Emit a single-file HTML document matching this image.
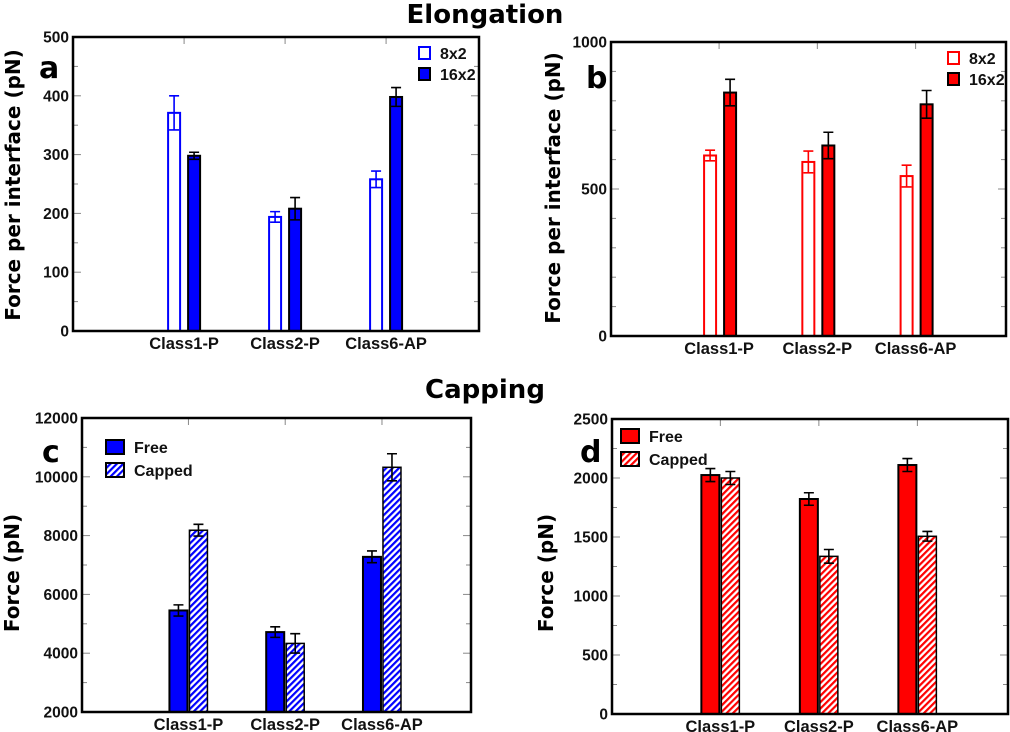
<!DOCTYPE html>
<html><head><meta charset="utf-8"><style>
html,body{margin:0;padding:0;background:#fff;}
svg{display:block;}
.tl{font-family:"Liberation Sans",sans-serif;font-weight:bold;font-size:15.5px;fill:#111;}
.cl{font-family:"Liberation Sans",sans-serif;font-weight:bold;font-size:16.5px;fill:#111;}
.dj{font-family:"DejaVu Sans",sans-serif;font-weight:bold;fill:#000;}
.lg{font-family:"Liberation Sans",sans-serif;font-weight:bold;font-size:16px;fill:#111;}
</style></head><body>
<svg id="fig" width="1010" height="732" viewBox="0 0 1010 732" xmlns="http://www.w3.org/2000/svg">
<defs>
<pattern id="hatchBlue" patternUnits="userSpaceOnUse" width="4.5" height="4.5" patternTransform="rotate(45)">
<rect width="4.5" height="4.5" fill="#fff"/><rect width="2.2" height="4.5" fill="#0000ff"/></pattern>
<pattern id="hatchRed" patternUnits="userSpaceOnUse" width="4.5" height="4.5" patternTransform="rotate(45)">
<rect width="4.5" height="4.5" fill="#fff"/><rect width="2.2" height="4.5" fill="#ff0000"/></pattern>
</defs>
<text class="dj" x="485" y="23" font-size="26" text-anchor="middle">Elongation</text>
<text class="dj" x="485" y="398" font-size="26" text-anchor="middle">Capping</text>
</svg>
<script>
const categories = ["Class1-P","Class2-P","Class6-AP"];
const aSeries1 = [371, 194, 258];
const aErr1 = [29, 9, 14];
const aSeries2 = [298, 208, 398];
const aErr2 = [6, 19, 16];
const aTicks = [0,100,200,300,400,500];
const bSeries1 = [614, 592, 544];
const bErr1 = [18, 37, 37];
const bSeries2 = [828, 648, 788];
const bErr2 = [45, 45, 47];
const bTicks = [0,500,1000];
const cSeries1 = [5454, 4718, 7277];
const cErr1 = [190, 180, 200];
const cSeries2 = [8183, 4333, 10324];
const cErr2 = [200, 330, 460];
const cTicks = [2000,4000,6000,8000,10000,12000];
const dSeries1 = [2025, 1822, 2110];
const dErr1 = [55, 53, 55];
const dSeries2 = [2000, 1336, 1506];
const dErr2 = [55, 58, 41];
const dTicks = [0,500,1000,1500,2000,2500];

const NS = "http://www.w3.org/2000/svg";
const svg = document.getElementById('fig');
function mk(tag, attrs, parent){
  const e = document.createElementNS(NS, tag);
  for (const k in attrs) e.setAttribute(k, attrs[k]);
  (parent||svg).appendChild(e);
  return e;
}

function panel(p){
  const g = mk('g', {});
  
  
  const y = v => p.bottom - (v - p.ymin) / (p.ymax - p.ymin) * (p.bottom - p.top);
  const x = i => p.left + (i + 1.1) * (p.right - p.left) / 4.02;
  for (let v = p.ymin; v <= p.ymax + 1e-9; v += p.minor) {
    const yy = y(v);
    const major = Math.abs(((v - p.ymin) / p.major) - Math.round((v - p.ymin) / p.major)) < 1e-6;
    const len = major ? 8 : 5;
    const t1 = mk('line', {x1:p.left, x2:p.left+len, y1:yy, y2:yy, stroke:'#888', 'stroke-width':1}, g);
    
    
    const t2 = mk('line', {x1:p.right, x2:p.right-len, y1:yy, y2:yy, stroke:'#888', 'stroke-width':1}, g);
    
    
  }
  p.ticks.forEach(v => {
    const t = mk('text', {x:p.left-4, y:y(v)+5.5, 'text-anchor':'end', class:'tl'}, g);
    t.textContent = v;
    
    
  });
  categories.forEach((c, i) => {
    const tk = mk('line', {x1:x(i), x2:x(i), y1:p.top, y2:p.top+7, stroke:'#888', 'stroke-width':1}, g);
    
    
    const t = mk('text', {x:x(i), y:p.bottom+18, 'text-anchor':'middle', class:'cl'}, g);
    t.textContent = c;
    
    
  });
  const series = [[p.s1, p.e1, p.style1], [p.s2, p.e2, p.style2]];
  series.forEach((s, si) => {
    s[0].forEach((v, i) => {
      const cx = x(i) + p.offs[si];
      const st = s[2];
      const top = y(v), bot = y(p.ymin);
      const r = mk('rect', {x:cx - p.bw/2, y:top, width:p.bw, height:bot-top, fill:st.fill, stroke:st.stroke, 'stroke-width':st.sw}, g);
      
      
      const e = s[1][i];
      const ec = st.err;
      const eb = mk('path', {d:`M${cx},${y(v+e)}V${y(v-e)}M${cx-5},${y(v+e)}H${cx+5}M${cx-5},${y(v-e)}H${cx+5}`, stroke:ec, 'stroke-width':1.6, fill:'none'}, g);
      
      
    });
  });
  const box = mk('rect', {x:p.left, y:p.top, width:p.right-p.left, height:p.bottom-p.top, fill:'none', stroke:'#000', 'stroke-width':2.5}, g);
  
  
  [p.style1, p.style2].forEach((st, k) => {
    const ly = p.leg.y + k * p.leg.dy;
    const r = mk('rect', {x:p.leg.x, y:ly, width:p.leg.w, height:p.leg.h, fill:st.fill, stroke:st.legStroke, 'stroke-width':2}, g);
    
    
    const t = mk('text', {x:p.leg.x + p.leg.w + 10, y:ly + p.leg.h/2 + 6, class:'lg'}, g);
    t.textContent = p.labels[k];
    
    
  });
  const pl = mk('text', {x:p.letter.x, y:p.letter.y, class:'dj', 'font-size':30}, g);
  pl.textContent = p.id;
  
  
  const yl = mk('text', {x:0, y:0, class:'dj', 'font-size':20, 'text-anchor':'middle', transform:`translate(${p.yl.x},${p.yl.y}) rotate(-90)`}, g);
  yl.textContent = p.ylabel;
  
  
}

const blueOpen = {fill:'#fff', stroke:'#0000ff', sw:2, err:'#0000ff', legStroke:'#0000ff'};
const blueSolid = {fill:'#0000ff', stroke:'#000', sw:2, err:'#000', legStroke:'#000'};
const redOpen = {fill:'#fff', stroke:'#ff0000', sw:2, err:'#ff0000', legStroke:'#ff0000'};
const redSolid = {fill:'#ff0000', stroke:'#000', sw:2, err:'#000', legStroke:'#000'};
const blueHatch = {fill:'url(#hatchBlue)', stroke:'#000', sw:1.5, err:'#000', legStroke:'#000'};
const redHatch = {fill:'url(#hatchRed)', stroke:'#000', sw:1.5, err:'#000', legStroke:'#000'};

panel({id:'a', left:73, right:479, top:37, bottom:331, ymin:0, ymax:500, minor:50, major:100, ticks:aTicks,
  s1:aSeries1, e1:aErr1, s2:aSeries2, e2:aErr2, style1:blueOpen, style2:blueSolid, offs:[-10,10], bw:12,
  names:['8x2','16x2'], labels:['8x2','16x2'], leg:{x:419, y:47, dy:21, w:11, h:12},
  letter:{x:39, y:78}, ylabel:'Force per interface (pN)', yl:{x:20, y:185}});
panel({id:'b', left:611, right:1006, top:42, bottom:336, ymin:0, ymax:1000, minor:100, major:500, ticks:bTicks,
  s1:bSeries1, e1:bErr1, s2:bSeries2, e2:bErr2, style1:redOpen, style2:redSolid, offs:[-9,11], bw:12,
  names:['8x2','16x2'], labels:['8x2','16x2'], leg:{x:948, y:52, dy:21, w:11, h:12},
  letter:{x:586, y:88}, ylabel:'Force per interface (pN)', yl:{x:560, y:188}});
panel({id:'c', left:82, right:471, top:418, bottom:712, ymin:2000, ymax:12000, minor:1000, major:2000, ticks:cTicks,
  s1:cSeries1, e1:cErr1, s2:cSeries2, e2:cErr2, style1:blueSolid, style2:blueHatch, offs:[-10,10], bw:18,
  names:['free','capped'], labels:['Free','Capped'], leg:{x:106, y:440, dy:23, w:18, h:14},
  letter:{x:42, y:462}, ylabel:'Force (pN)', yl:{x:19, y:573}});
panel({id:'d', left:612, right:1008, top:419, bottom:714, ymin:0, ymax:2500, minor:250, major:500, ticks:dTicks,
  s1:dSeries1, e1:dErr1, s2:dSeries2, e2:dErr2, style1:redSolid, style2:redHatch, offs:[-10,10], bw:18,
  names:['free','capped'], labels:['Free','Capped'], leg:{x:621, y:429, dy:23, w:18, h:14},
  letter:{x:580, y:462}, ylabel:'Force (pN)', yl:{x:553, y:573}});
</script>
</body></html>
